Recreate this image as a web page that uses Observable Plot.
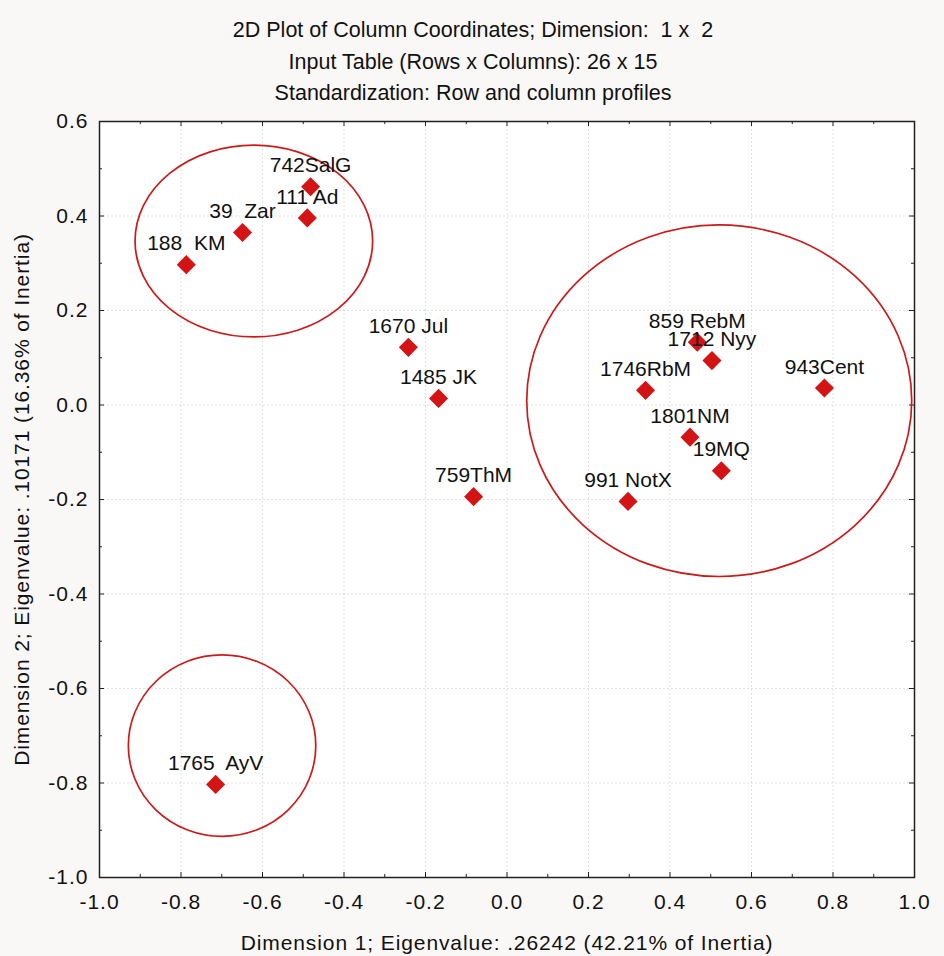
<!DOCTYPE html>
<html>
<head>
<meta charset="utf-8">
<script src="https://cdn.jsdelivr.net/npm/d3@7"></script>
<script src="https://cdn.jsdelivr.net/npm/@observablehq/plot@0.6"></script>
<style>
  html, body { margin: 0; padding: 0; background: #faf8f6; }
  svg text { white-space: pre; }
  g[aria-label="x-axis tick label"] text, g[aria-label="y-axis tick label"] text { letter-spacing: 1px; }
  g[aria-label="x-axis label"] text, g[aria-label="y-axis label"] text { letter-spacing: 0.9px; }
  g[aria-label="chart title"] text { letter-spacing: 1.4px; }
  g[aria-label="point label"] text { letter-spacing: 0.3px; }
</style>
</head>
<body>
<div id="chart"></div>
<script>
// ---- data ----
const labels = ["188  KM", "39  Zar", "742SalG", "111 Ad", "1670 Jul", "1485 JK", "759ThM", "1765  AyV",
                "859 RebM", "1712 Nyy", "1746RbM", "943Cent", "1801NM", "19MQ", "991 NotX"];
const dim1 = [-0.787, -0.649, -0.482, -0.490, -0.242, -0.168, -0.082, -0.715,
              0.467, 0.503, 0.340, 0.779, 0.449, 0.526, 0.297];
const dim2 = [0.297, 0.365, 0.462, 0.396, 0.122, 0.014, -0.194, -0.803,
              0.133, 0.094, 0.031, 0.036, -0.068, -0.139, -0.204];

// cluster ellipses (data units)
const ellipseCx = [-0.620, 0.522, -0.698];
const ellipseCy = [0.346, 0.008, -0.722];
const ellipseRx = [0.2915, 0.4724, 0.230];
const ellipseRy = [0.203, 0.372, 0.192];

const xMajor = [-1.0, -0.8, -0.6, -0.4, -0.2, 0.0, 0.2, 0.4, 0.6, 0.8, 1.0];
const xMinor = [-0.9, -0.7, -0.5, -0.3, -0.1, 0.1, 0.3, 0.5, 0.7, 0.9];
const yMajor = [-1.0, -0.8, -0.6, -0.4, -0.2, 0.0, 0.2, 0.4, 0.6];
const yMinor = [-0.9, -0.7, -0.5, -0.3, -0.1, 0.1, 0.3, 0.5];

const titleLines = [
  "2D Plot of Column Coordinates; Dimension:  1 x  2",
  "Input Table (Rows x Columns): 26 x 15",
  "Standardization: Row and column profiles"
];
const xTitle = "Dimension 1; Eigenvalue: .26242 (42.21% of Inertia)";
const yTitle = "Dimension 2; Eigenvalue: .10171 (16.36% of Inertia)";

// ---- build ----
const points = labels.map((l, i) => ({label: l, x: dim1[i], y: dim2[i]}));
const ellipses = ellipseCx.map((c, i) => ({cx: c, cy: ellipseCy[i], rx: ellipseRx[i], ry: ellipseRy[i]}));

const W = 944, H = 956;
const mt = 121, mb = 79, ml = 99, mr = 30;
const pw = W - ml - mr, ph = H - mt - mb;
const fmt = d => d.toFixed(1);
const red = "#d41414";
const titleDy = [-91, -59, -28];

const ellipseMark = (index, scales) => {
  const g = d3.create("svg:g").attr("fill", "none").attr("stroke", "#cc1a1a").attr("stroke-width", 1.7);
  for (const e of ellipses) {
    const cx = scales.x(e.cx), cy = scales.y(e.cy);
    const rx = Math.abs(scales.x(e.cx + e.rx) - cx);
    const ry = Math.abs(scales.y(e.cy + e.ry) - cy);
    g.append("ellipse").attr("cx", cx).attr("cy", cy).attr("rx", rx).attr("ry", ry);
  }
  return g.node();
};

const chart = Plot.plot({
  width: W,
  height: H,
  marginTop: mt,
  marginBottom: mb,
  marginLeft: ml,
  marginRight: mr,
  style: {fontFamily: "'Liberation Sans', Arial, sans-serif", fontSize: "21px", background: "#faf8f6", color: "#111"},
  x: {domain: [-1, 1]},
  y: {domain: [-1, 0.6]},
  marks: [
    Plot.frame({fill: "white", stroke: null}),
    Plot.gridX(xMajor, {stroke: "#c8c8c8", strokeOpacity: 0.55, strokeDasharray: "2,2"}),
    Plot.gridY(yMajor, {stroke: "#c8c8c8", strokeOpacity: 0.55, strokeDasharray: "2,2"}),
    // inward ticks on all four sides
    Plot.tickX(xMajor, {x: d => d, insetTop: ph - 5, stroke: "#222"}),
    Plot.tickX(xMinor, {x: d => d, insetTop: ph - 3, stroke: "#222"}),
    Plot.tickX(xMajor, {x: d => d, insetBottom: ph - 5, stroke: "#222"}),
    Plot.tickX(xMinor, {x: d => d, insetBottom: ph - 3, stroke: "#222"}),
    Plot.tickY(yMajor, {y: d => d, insetRight: pw - 5, stroke: "#222"}),
    Plot.tickY(yMinor, {y: d => d, insetRight: pw - 3, stroke: "#222"}),
    Plot.tickY(yMajor, {y: d => d, insetLeft: pw - 5, stroke: "#222"}),
    Plot.tickY(yMinor, {y: d => d, insetLeft: pw - 3, stroke: "#222"}),
    Plot.axisX(xMajor, {tickSize: 0, tickPadding: 17, tickFormat: fmt, fontSize: 21, label: xTitle,
      labelAnchor: "center", labelOffset: 72, labelArrow: false}),
    Plot.axisY(yMajor, {tickSize: 0, tickPadding: 11, tickFormat: fmt, fontSize: 21, label: yTitle,
      labelAnchor: "center", labelOffset: 85, labelArrow: false}),
    ellipseMark,
    Plot.dot(points, {x: "x", y: "y", symbol: "diamond2", r: 8.6, fill: red, stroke: "none"}),
    Plot.text(points, {x: "x", y: "y", text: "label", dy: -21, fontSize: 21, fill: "#111", ariaLabel: "point label"}),
    Plot.frame({stroke: "#222", strokeWidth: 1.5}),
    ...titleLines.map((t, i) =>
      Plot.text([t], {text: d => d, frameAnchor: "top", lineAnchor: "middle", dx: -34, dy: titleDy[i],
        fontSize: 21.5, fill: "#111", ariaLabel: "chart title"})
    )
  ]
});
document.getElementById("chart").appendChild(chart);
</script>
</body>
</html>
